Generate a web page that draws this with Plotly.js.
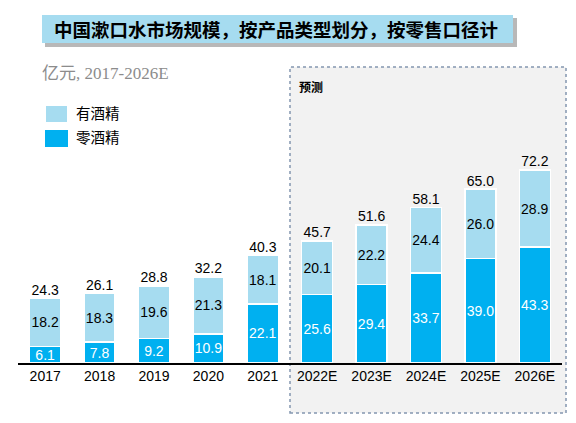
<!DOCTYPE html>
<html>
<head>
<meta charset="utf-8">
<script src="https://cdn.plot.ly/plotly-3.0.1.min.js"></script>
<style>
  html, body { margin: 0; padding: 0; background: #fff; }
  #chart { width: 576px; height: 423px; }
</style>
</head>
<body>
<div id="chart"></div>
<script>
// 연도 (카테고리)
const years = ["2017", "2018", "2019", "2020", "2021", "2022E", "2023E", "2024E", "2025E", "2026E"];
// 零酒精 (아래), 有酒精 (위), 합계
const zeroAlcohol = [6.1, 7.8, 9.2, 10.9, 22.1, 25.6, 29.4, 33.7, 39.0, 43.3];
const withAlcohol = [18.2, 18.3, 19.6, 21.3, 18.1, 20.1, 22.2, 24.4, 26.0, 28.9];
const totals = [24.3, 26.1, 28.8, 32.2, 40.3, 45.7, 51.6, 58.1, 65.0, 72.2];

const W = 576, H = 423;
const px = (x) => x / W;
const py = (y) => 1 - y / H;

const darkBlue = "#00b0f0";
const lightBlue = "#a6dcf0";
const numFont = "Liberation Sans, Arial, sans-serif";
const cjkSerif = "Liberation Serif, Noto Sans CJK SC, serif";

const fmt = (v) => v.toFixed(1);

const traces = [
  {
    type: "bar",
    name: "零酒精",
    x: years,
    y: zeroAlcohol,
    marker: { color: darkBlue, line: { color: "#ffffff", width: 1.5 } },
    text: zeroAlcohol.map(fmt),
    textposition: "inside",
    insidetextanchor: "middle",
    textangle: 0,
    constraintext: "none",
    textfont: { family: numFont, size: 14, color: "#ffffff" },
    hoverinfo: "skip",
  },
  {
    type: "bar",
    name: "有酒精",
    x: years,
    y: withAlcohol,
    marker: { color: lightBlue, line: { color: "#ffffff", width: 1.5 } },
    text: withAlcohol.map(fmt),
    textposition: "inside",
    insidetextanchor: "middle",
    textangle: 0,
    constraintext: "none",
    textfont: { family: numFont, size: 14, color: "#000000" },
    hoverinfo: "skip",
  },
  {
    // 합계 라벨
    type: "scatter",
    mode: "text",
    x: years,
    y: totals,
    text: totals.map(fmt),
    textposition: "top center",
    textfont: { family: numFont, size: 14, color: "#000000" },
    hoverinfo: "skip",
  },
];

const layout = {
  width: W,
  height: H,
  margin: { l: 0, r: 0, t: 0, b: 0 },
  paper_bgcolor: "#ffffff",
  plot_bgcolor: "rgba(0,0,0,0)",
  showlegend: false,
  barmode: "stack",
  bargap: 0.43,
  uniformtext: { minsize: 14, mode: "show" },
  xaxis: {
    type: "category",
    domain: [px(18), px(562)],
    range: [-0.5, 9.5],
    showline: true,
    linecolor: "#000000",
    linewidth: 1.5,
    ticks: "",
    showgrid: false,
    zeroline: false,
    tickfont: { family: numFont, size: 14, color: "#000000" },
    fixedrange: true,
  },
  yaxis: {
    domain: [py(363), py(149)],
    range: [0, 80],
    visible: false,
    fixedrange: true,
  },
  shapes: [
    // 예측 영역
    {
      type: "rect", xref: "paper", yref: "paper", layer: "below",
      x0: px(290), x1: px(566), y0: py(413), y1: py(67),
      fillcolor: "#f2f2f2",
      line: { color: "#8497b0", width: 1.5, dash: "dot" },
    },
    // 제목 그림자
    {
      type: "rect", xref: "paper", yref: "paper", layer: "below",
      x0: px(45), x1: px(517), y0: py(47), y1: py(18),
      fillcolor: "#b8b8b8", line: { width: 0 },
    },
    // 제목 박스
    {
      type: "rect", xref: "paper", yref: "paper", layer: "below",
      x0: px(42), x1: px(513), y0: py(43), y1: py(15),
      fillcolor: lightBlue, line: { width: 0 },
    },
    // 범례
    {
      type: "rect", xref: "paper", yref: "paper",
      x0: px(46), x1: px(67), y0: py(122), y1: py(106),
      fillcolor: lightBlue, line: { width: 0 },
    },
    {
      type: "rect", xref: "paper", yref: "paper",
      x0: px(45), x1: px(68), y0: py(147), y1: py(130),
      fillcolor: darkBlue, line: { width: 0 },
    },
  ],
  annotations: [
    {
      xref: "paper", yref: "paper", x: px(52), y: py(29),
      xanchor: "left", yanchor: "middle", showarrow: false,
      text: "<b>中国漱口水市场规模，按产品类型划分，按零售口径计</b>",
      font: { family: "Noto Sans CJK SC", size: 18.5, color: "#000000" },
    },
    {
      xref: "paper", yref: "paper", x: px(40), y: py(73),
      xanchor: "left", yanchor: "middle", showarrow: false,
      text: "亿元, 2017-2026E",
      font: { family: cjkSerif, size: 17, color: "#8c8c8c" },
    },
    {
      xref: "paper", yref: "paper", x: px(74), y: py(114),
      xanchor: "left", yanchor: "middle", showarrow: false,
      text: "有酒精",
      font: { family: cjkSerif, size: 14.5, color: "#000000" },
    },
    {
      xref: "paper", yref: "paper", x: px(74), y: py(138),
      xanchor: "left", yanchor: "middle", showarrow: false,
      text: "零酒精",
      font: { family: cjkSerif, size: 14.5, color: "#000000" },
    },
    {
      xref: "paper", yref: "paper", x: px(297), y: py(87),
      xanchor: "left", yanchor: "middle", showarrow: false,
      text: "<b>预测</b>",
      font: { family: "Noto Sans CJK SC", size: 12, color: "#000000" },
    },
  ],
};

Plotly.newPlot("chart", traces, layout, { staticPlot: true, displayModeBar: false });
</script>
</body>
</html>
